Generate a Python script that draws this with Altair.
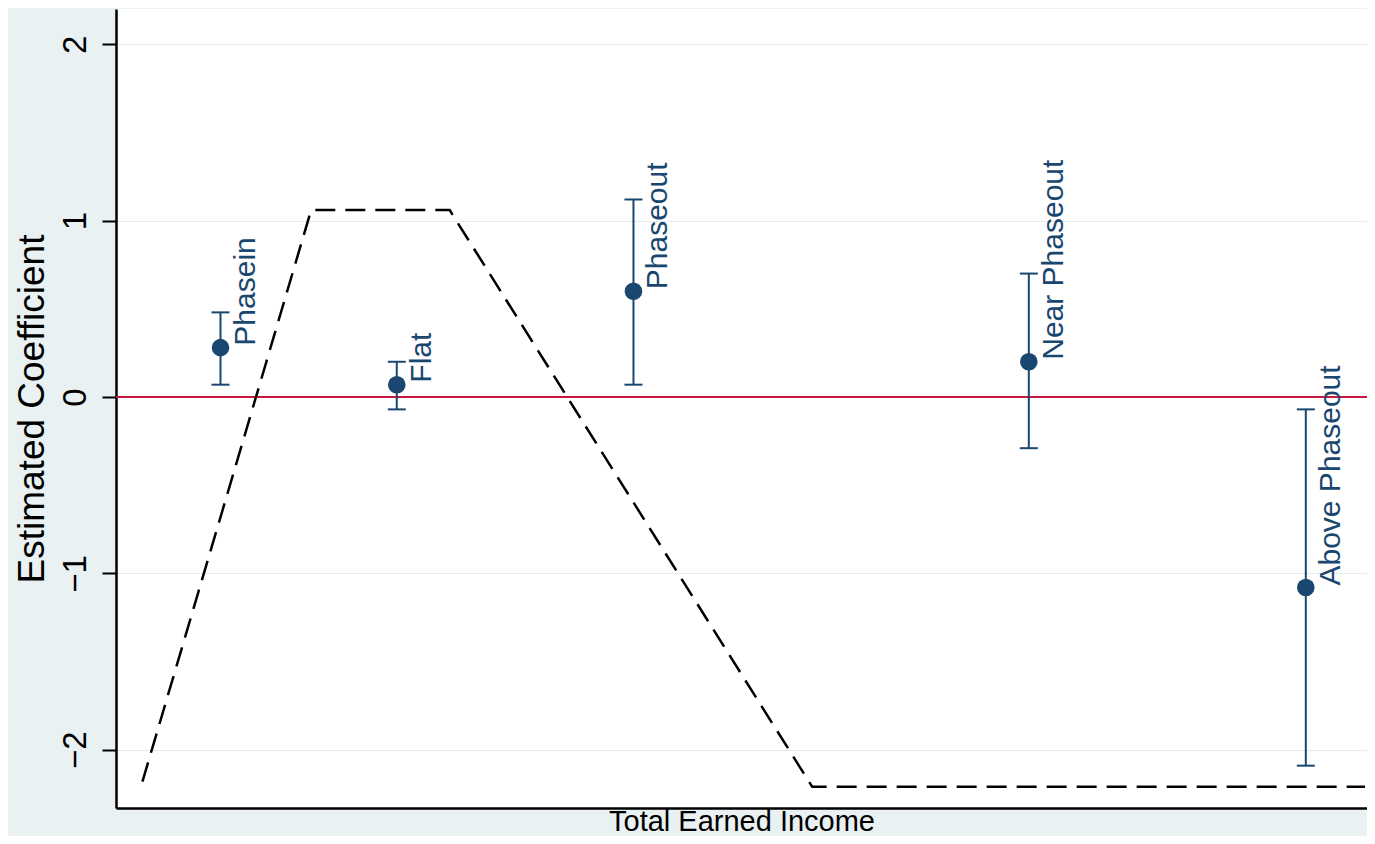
"""Estimated coefficients by EITC schedule region, with the schedule shape overlaid."""

import altair as alt
import pandas as pd

# coefficient estimates per income region (x in arbitrary income units 0-100)
groups = ["Phasein", "Flat", "Phaseout", "Near Phaseout", "Above Phaseout"]
group_income = [8.3, 22.3, 41.1, 72.5, 94.5]
coef = [0.28, 0.07, 0.60, 0.20, -1.08]
ci_low = [0.07, -0.07, 0.07, -0.29, -2.09]
ci_high = [0.48, 0.20, 1.12, 0.70, -0.07]

# stylised EITC schedule (dashed line)
schedule_income = [2.1, 15.5, 26.5, 55.3, 99.2]
schedule_value = [-2.18, 1.06, 1.06, -2.21, -2.21]

y_ticks = [-2, -1, 0, 1, 2]

NAVY = "#1a476f"
RED = "#c8183f"
FONT = "Liberation Sans"

df_points = pd.DataFrame(
    {"group": groups, "income": group_income, "value": coef, "ci_low": ci_low, "ci_high": ci_high}
)
df_schedule = pd.DataFrame({"income": schedule_income, "value": schedule_value})
df_zero = pd.DataFrame({"value": [0]})

# plot is 8px narrower than the original panel, so trim the domain to keep positions
x_scale = alt.Scale(domain=[0, 99.36], nice=False, zero=False)
y_scale = alt.Scale(domain=[-2.33, 2.2], nice=False, zero=False)

x_axis = alt.Axis(
    title="Total Earned Income",
    labels=False,
    ticks=False,
    grid=False,
    domainColor="black",
    domainWidth=2.5,
    titleFont=FONT,
    titleFontSize=29,
    titleFontWeight="normal",
    titleColor="black",
    titleBaseline="alphabetic",
    titleY=22,
)
y_axis = alt.Axis(
    title="Estimated Coefficient",
    values=y_ticks,
    grid=True,
    gridColor="#e3ecef",
    gridWidth=1.2,
    domainColor="black",
    domainWidth=2.5,
    tickColor="black",
    tickWidth=2,
    tickSize=14,
    labelAngle=270,
    labelAlign="center",
    labelBaseline="alphabetic",
    labelPadding=17,
    labelFont=FONT,
    labelFontSize=33,
    labelColor="black",
    titleFont=FONT,
    titleFontSize=37,
    titleFontWeight="normal",
    titleColor="black",
    titleAngle=270,
    titleBaseline="alphabetic",
    titleX=-73,
)

x_enc = alt.X("income:Q", scale=x_scale, axis=x_axis)
y_enc = alt.Y("value:Q", scale=y_scale, axis=y_axis)

zero_line = alt.Chart(df_zero).mark_rule(color=RED, strokeWidth=2).encode(y=y_enc)

schedule_line = (
    alt.Chart(df_schedule)
    .mark_line(color="black", strokeWidth=2.5, strokeDash=[20, 10])
    .encode(x=x_enc, y=y_enc)
)

err_rule = (
    alt.Chart(df_points)
    .mark_rule(color=NAVY, strokeWidth=2)
    .encode(x=x_enc, y=alt.Y("ci_low:Q", scale=y_scale, axis=y_axis), y2="ci_high:Q")
)

err_caps = (
    alt.Chart(df_points)
    .transform_fold(["ci_low", "ci_high"], as_=["bound", "value"])
    .mark_tick(orient="horizontal", color=NAVY, size=18, thickness=2, opacity=1)
    .encode(x=x_enc, y=y_enc)
)

dots = alt.Chart(df_points).mark_circle(color=NAVY, size=310, opacity=1).encode(x=x_enc, y=y_enc)

labels = (
    alt.Chart(df_points)
    .mark_text(angle=270, align="left", baseline="top", dy=10, dx=2, font=FONT, fontSize=30, color=NAVY)
    .encode(x=x_enc, y=y_enc, text="group:N")
)

chart = (
    alt.layer(zero_line, schedule_line, err_rule, err_caps, dots, labels)
    .properties(
        width=1251,
        height=799,
        autosize=alt.AutoSizeParams(type="none"),
        padding={"left": 108, "top": 1, "right": 0, "bottom": 28},
        background="#e9f1f3",
    )
    .configure_view(stroke=None, fill="white")
)

chart.save("out.html", embed_options={"renderer": "svg", "actions": False})
